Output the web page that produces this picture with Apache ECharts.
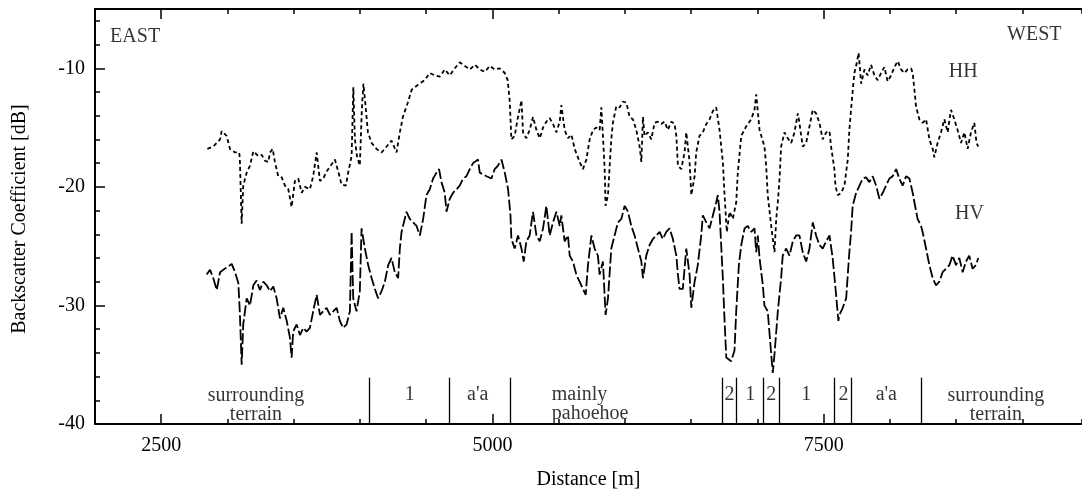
<!DOCTYPE html>
<html><head><meta charset="utf-8">
<script src="https://cdn.jsdelivr.net/npm/echarts@6/dist/echarts.min.js"></script>
<style>html,body{margin:0;padding:0;background:#fff}#c{width:1082px;height:495px}</style>
</head><body><div id="c"></div>
<script>
// HH backscatter [distance m, dB]
const hhData = [
[2848,-16.8],[2893,-16.6],[2944,-16.0],[2956,-15.3],[2994,-15.7],[3019,-16.8],[3057,-17.1],[3089,-17.1],[3094,-17.9],[3107,-23.1],[3119,-19.9],[3145,-18.8],[3170,-18.2],[3195,-17.0],[3232,-17.4],[3258,-17.3],[3283,-17.8],[3308,-17.9],[3321,-17.1],[3341,-16.8],[3358,-17.9],[3383,-19.1],[3409,-19.2],[3434,-19.9],[3459,-20.2],[3484,-21.7],[3509,-19.5],[3534,-19.3],[3560,-20.5],[3585,-20.0],[3622,-20.2],[3647,-19.1],[3673,-17.1],[3698,-19.5],[3723,-19.3],[3748,-18.7],[3786,-18.1],[3811,-17.7],[3836,-18.7],[3861,-19.8],[3894,-19.9],[3911,-18.8],[3937,-17.4],[3950,-11.6],[3962,-16.0],[3977,-17.4],[3999,-18.2],[4014,-13.5],[4026,-11.3],[4045,-13.5],[4060,-15.4],[4088,-16.3],[4125,-16.8],[4163,-17.1],[4201,-16.6],[4238,-16.1],[4276,-17.1],[4301,-15.4],[4324,-14.1],[4361,-12.9],[4391,-11.8],[4437,-11.4],[4489,-11.0],[4527,-10.4],[4565,-10.6],[4603,-10.7],[4640,-10.1],[4678,-10.6],[4716,-10.0],[4753,-9.5],[4791,-9.8],[4829,-10.1],[4867,-9.7],[4904,-10.1],[4942,-10.3],[4980,-9.8],[5017,-10.1],[5055,-10.0],[5093,-10.4],[5115,-11.0],[5130,-12.7],[5143,-16.0],
[5168,-15.7],[5193,-14.1],[5219,-12.7],[5231,-15.4],[5256,-15.9],[5281,-15.2],[5306,-14.1],[5332,-15.2],[5357,-15.9],[5382,-15.0],[5407,-14.5],[5432,-14.2],[5457,-14.7],[5483,-15.4],[5508,-14.5],[5520,-13.1],[5545,-15.2],[5570,-15.9],[5596,-15.6],[5621,-16.8],[5658,-17.9],[5683,-18.5],[5709,-17.7],[5734,-16.0],[5759,-15.2],[5784,-15.0],[5809,-15.2],[5822,-13.3],[5834,-15.7],[5847,-18.5],[5854,-21.6],[5872,-20.7],[5885,-18.2],[5897,-16.0],[5909,-14.6],[5935,-13.2],[5960,-13.3],[5985,-12.8],[6011,-12.9],[6035,-14.1],[6060,-14.3],[6086,-15.2],[6111,-16.6],[6124,-17.9],[6136,-14.1],[6148,-15.7],[6173,-15.4],[6199,-16.0],[6224,-14.6],[6249,-14.5],[6274,-14.7],[6299,-14.5],[6324,-15.2],[6350,-14.5],[6375,-14.7],[6388,-15.7],[6400,-18.2],[6425,-18.5],[6450,-17.1],[6463,-15.4],[6475,-16.6],[6488,-17.9],[6501,-20.7],[6526,-19.1],[6538,-17.1],[6563,-15.7],[6588,-15.4],[6614,-14.7],[6639,-14.3],[6664,-13.6],[6689,-13.3],[6714,-15.2],[6739,-17.9],[6752,-20.7],[6769,-23.8],[6790,-22.1],[6814,-22.7],[6840,-21.3],[6852,-18.8],[6878,-15.7],[6915,-14.9],[6953,-14.3],[6978,-13.5],[6991,-12.2],[7016,-15.2],[7053,-16.6],[7066,-18.2],[7078,-20.7],[7104,-23.3],[7129,-25.5],[7142,-22.7],[7154,-21.3],[7167,-19.3],[7179,-16.6],[7204,-15.4],[7229,-15.9],[7255,-16.3],[7280,-15.4],[7305,-13.8],[7317,-14.6],[7342,-16.6],[7368,-16.3],[7393,-14.9],[7418,-13.5],[7443,-13.8],[7468,-14.6],[7493,-16.0],[7519,-15.4],[7544,-15.3],[7556,-16.6],[7581,-18.5],[7589,-19.9],[7606,-20.7],[7632,-20.5],[7657,-19.9],[7682,-17.7],[7694,-15.2],[7715,-12.4],[7732,-10.4],[7749,-9.6],[7764,-8.7],[7783,-11.3],[7808,-10.1],[7832,-10.6],[7858,-9.7],[7883,-10.6],[7908,-11.0],[7933,-10.4],[7958,-9.9],[7983,-11.1],[8009,-10.6],[8034,-9.9],[8059,-9.4],[8084,-10.1],[8109,-10.4],[8134,-10.1],[8160,-10.0],[8172,-10.4],[8185,-11.8],[8197,-13.2],[8222,-14.3],[8247,-14.6],[8273,-14.3],[8298,-16.0],[8323,-16.8],[8335,-17.5],[8360,-16.3],[8386,-15.4],[8411,-14.3],[8436,-15.4],[8461,-13.5],[8486,-14.3],[8511,-15.2],[8537,-16.3],[8562,-15.4],[8587,-16.8],[8612,-15.4],[8637,-14.6],[8654,-16.3],[8667,-16.6]
];
// HV backscatter [distance m, dB]
const hvData = [
[2843,-27.4],[2868,-27.0],[2893,-27.7],[2919,-28.7],[2944,-27.2],[2968,-27.0],[3006,-26.7],[3032,-26.5],[3057,-27.2],[3082,-28.1],[3094,-30.8],[3107,-35.0],[3119,-31.6],[3145,-29.4],[3170,-30.0],[3195,-28.3],[3220,-27.9],[3245,-28.7],[3270,-28.0],[3296,-28.3],[3321,-28.8],[3346,-28.4],[3371,-29.4],[3396,-31.1],[3421,-30.2],[3447,-31.3],[3471,-32.7],[3484,-34.4],[3496,-32.2],[3522,-31.6],[3547,-32.5],[3572,-31.9],[3597,-32.2],[3622,-31.9],[3647,-30.5],[3673,-29.1],[3698,-30.8],[3723,-30.5],[3748,-30.2],[3773,-30.8],[3798,-30.5],[3824,-30.2],[3848,-31.3],[3873,-31.9],[3899,-31.6],[3924,-30.5],[3937,-23.8],[3949,-29.4],[3974,-30.5],[3999,-28.8],[4012,-23.5],[4037,-25.2],[4062,-26.6],[4088,-27.7],[4112,-28.6],[4137,-29.4],[4163,-28.8],[4188,-28.0],[4213,-26.6],[4238,-26.0],[4263,-27.2],[4288,-27.7],[4301,-25.2],[4314,-23.8],[4351,-22.1],[4376,-22.7],[4401,-23.0],[4427,-23.3],[4452,-24.1],[4477,-22.7],[4502,-20.7],[4527,-20.2],[4552,-19.3],[4578,-18.8],[4597,-18.5],[4615,-19.6],[4640,-20.5],[4653,-22.1],[4678,-21.0],[4703,-20.5],[4729,-20.2],[4753,-19.9],[4778,-19.3],[4804,-19.1],[4829,-18.5],[4854,-18.0],[4891,-17.7],[4904,-18.8],[4955,-19.1],[4992,-19.3],[5017,-18.5],[5042,-18.2],[5068,-17.7],[5093,-18.8],[5118,-20.2],[5136,-22.4],[5143,-24.4],[5168,-25.2],[5193,-24.1],[5219,-25.2],[5236,-26.3],[5256,-24.6],[5281,-24.1],[5306,-22.1],[5332,-24.1],[5357,-24.6],[5382,-23.5],[5407,-21.6],[5432,-24.1],[5457,-23.0],[5483,-22.1],[5508,-23.3],[5520,-22.4],[5545,-24.6],[5570,-24.1],[5583,-25.8],[5608,-26.3],[5633,-27.4],[5658,-28.0],[5683,-28.6],[5704,-29.1],[5721,-26.6],[5747,-24.1],[5771,-25.2],[5796,-25.8],[5809,-27.4],[5834,-26.3],[5854,-30.8],[5872,-29.4],[5897,-25.2],[5922,-24.1],[5947,-23.0],[5973,-22.7],[5998,-21.6],[6023,-22.1],[6048,-23.3],[6073,-24.1],[6098,-25.2],[6124,-26.3],[6136,-27.7],[6161,-25.8],[6186,-24.9],[6211,-24.4],[6237,-24.1],[6262,-23.8],[6286,-24.4],[6312,-23.8],[6337,-23.5],[6362,-24.4],[6388,-25.8],[6400,-27.4],[6412,-28.6],[6437,-28.6],[6463,-25.2],[6488,-27.4],[6501,-30.2],[6526,-28.0],[6550,-26.6],[6576,-24.1],[6588,-22.4],[6614,-23.0],[6639,-23.5],[6664,-22.4],[6689,-21.3],[6701,-20.7],[6714,-22.1],[6739,-27.7],[6752,-31.3],[6765,-34.4],[6802,-34.7],[6827,-33.8],[6840,-30.5],[6860,-26.6],[6878,-24.9],[6903,-23.5],[6927,-23.3],[6953,-23.8],[6978,-23.5],[6991,-25.5],[7003,-24.1],[7016,-26.0],[7041,-28.3],[7053,-30.0],[7078,-30.5],[7104,-34.1],[7116,-35.7],[7129,-34.1],[7154,-30.5],[7179,-27.7],[7191,-25.8],[7217,-25.2],[7242,-25.8],[7267,-24.6],[7292,-24.1],[7317,-24.1],[7342,-25.5],[7368,-26.3],[7393,-25.2],[7418,-23.0],[7443,-24.1],[7468,-24.9],[7493,-25.2],[7519,-24.6],[7544,-24.1],[7568,-26.0],[7594,-29.1],[7611,-31.3],[7619,-30.8],[7644,-30.2],[7670,-29.4],[7682,-27.4],[7694,-25.5],[7707,-23.8],[7719,-21.6],[7745,-20.5],[7770,-19.9],[7795,-19.3],[7820,-19.2],[7845,-19.6],[7870,-19.1],[7896,-19.9],[7921,-21.0],[7946,-20.5],[7971,-19.9],[7996,-19.3],[8021,-19.1],[8047,-18.5],[8071,-19.3],[8096,-19.9],[8122,-19.1],[8147,-19.3],[8172,-20.5],[8185,-21.3],[8209,-22.7],[8235,-23.3],[8247,-23.8],[8273,-25.2],[8298,-26.6],[8323,-27.7],[8348,-28.3],[8373,-28.0],[8398,-27.2],[8424,-26.9],[8449,-26.6],[8473,-25.8],[8499,-26.6],[8524,-26.0],[8549,-27.2],[8574,-26.3],[8599,-25.8],[8624,-26.9],[8650,-26.6],[8667,-26.0]
];
const xTickLabels = [2500, 5000, 7500];
const yTickLabels = [-40, -30, -20, -10];
const zoneBoundaries = [4067, 4673, 5138, 6731, 6840, 7046, 7167, 7581, 7707, 8235];
const zoneNames = ['surrounding\nterrain', '1', "a'a", 'mainly\npahoehoe', '2', '1', '2', '1', '2', "a'a", 'surrounding\nterrain'];
const zoneNameX = [3215, 4376, 4889, 5448, 6790, 6946, 7104, 7368, 7649, 7973, 8800];
const zoneNameY = [-38.4, -37.5, -37.5, -38.3, -37.5, -37.5, -37.5, -37.5, -37.5, -37.5, -38.4];
const cornerNames = ['EAST', 'WEST', 'HH', 'HV'];
const cornerX = [2114, 9090, 8554, 8600];
const cornerY = [-7.3, -7.2, -10.3, -22.3];

const FONT = '"Liberation Serif", "DejaVu Serif", serif';
const BLACK = '#000';
const textBase = { color: BLACK, fontSize: 20, fontFamily: FONT };

const xBase = { type: 'value', min: 2000, max: 9450, interval: 500, splitLine: { show: false } };
const axisLineStyle = { show: true, onZero: false, lineStyle: { color: BLACK, width: 2 } };

const labelItems = [];
zoneNames.forEach((n, i) => {
  const item = { name: n, value: [zoneNameX[i], zoneNameY[i]] };
  if (n.indexOf('mainly') === 0) item.label = { align: 'left' };
  labelItems.push(item);
});
cornerNames.forEach((n, i) => {
  const item = { name: n, value: [cornerX[i], cornerY[i]] };
  if (n === 'EAST') item.label = { align: 'left' };
  labelItems.push(item);
});

const chart = echarts.init(document.getElementById('c'), null, { renderer: 'canvas' });
chart.setOption({
  animation: false,
  backgroundColor: '#fff',
  grid: { left: 95, right: 0, top: 9, bottom: 68, containLabel: false },
  xAxis: [
    Object.assign({}, xBase, {
      position: 'bottom', axisLine: axisLineStyle,
      axisTick: { show: true, inside: true, length: 5, lineStyle: { color: BLACK, width: 1.5 } },
      axisLabel: Object.assign({ customValues: xTickLabels, margin: 12, formatter: v => String(v) }, textBase),
      name: 'Distance [m]', nameLocation: 'middle', nameGap: 46,
      nameTextStyle: textBase
    }),
    Object.assign({}, xBase, {
      position: 'bottom', axisLine: { show: false },
      axisTick: { show: true, inside: true, length: 10, customValues: xTickLabels, lineStyle: { color: BLACK, width: 1.5 } },
      axisLabel: { show: false }
    }),
    Object.assign({}, xBase, {
      position: 'top', axisLine: axisLineStyle,
      axisTick: { show: true, inside: true, length: 5, lineStyle: { color: BLACK, width: 1.5 } },
      axisLabel: { show: false }
    }),
    Object.assign({}, xBase, {
      position: 'top', axisLine: { show: false },
      axisTick: { show: true, inside: true, length: 10, customValues: xTickLabels, lineStyle: { color: BLACK, width: 1.5 } },
      axisLabel: { show: false }
    })
  ],
  yAxis: [
    {
      type: 'value', min: -40, max: -5, interval: 2, position: 'left',
      axisLine: axisLineStyle,
      axisTick: { show: true, inside: true, length: 5, lineStyle: { color: BLACK, width: 1.5 } },
      axisLabel: Object.assign({ customValues: yTickLabels, margin: 10, formatter: v => String(v) }, textBase),
      splitLine: { show: false }
    },
    {
      type: 'value', min: -40, max: -5, interval: 2, position: 'left',
      axisLine: { show: false },
      axisTick: { show: true, inside: true, length: 10, customValues: yTickLabels, lineStyle: { color: BLACK, width: 1.5 } },
      axisLabel: { show: false },
      splitLine: { show: false }
    }
  ],
  graphic: [{
    type: 'text', x: 20, y: 219, rotation: Math.PI / 2,
    style: { text: 'Backscatter Coefficient [dB]', fill: BLACK, font: '20px ' + FONT, textAlign: 'center', textVerticalAlign: 'middle' }
  }],
  series: [
    {
      type: 'line', name: 'HH', data: hhData, xAxisIndex: 0, yAxisIndex: 0,
      symbol: 'none', showSymbol: false, silent: true,
      lineStyle: { color: BLACK, width: 1.8, type: [4, 3] }
    },
    {
      type: 'line', name: 'HV', data: hvData, xAxisIndex: 0, yAxisIndex: 0,
      symbol: 'none', showSymbol: false, silent: true,
      lineStyle: { color: BLACK, width: 1.8, type: [11, 3] }
    },
    {
      type: 'scatter', name: 'labels', data: labelItems, xAxisIndex: 0, yAxisIndex: 0,
      symbolSize: 1, silent: true,
      itemStyle: { color: 'rgba(0,0,0,0)' },
      label: Object.assign({ show: true, position: 'inside', formatter: '{b}', lineHeight: 19, align: 'center' }, textBase),
      emphasis: { disabled: true },
      markLine: {
        silent: true, symbol: ['none', 'none'], label: { show: false },
        lineStyle: { color: BLACK, width: 1.3, type: 'solid' },
        data: zoneBoundaries.map(x => [{ coord: [x, -40] }, { coord: [x, -36.1] }])
      }
    }
  ]
});
</script>
</body></html>
